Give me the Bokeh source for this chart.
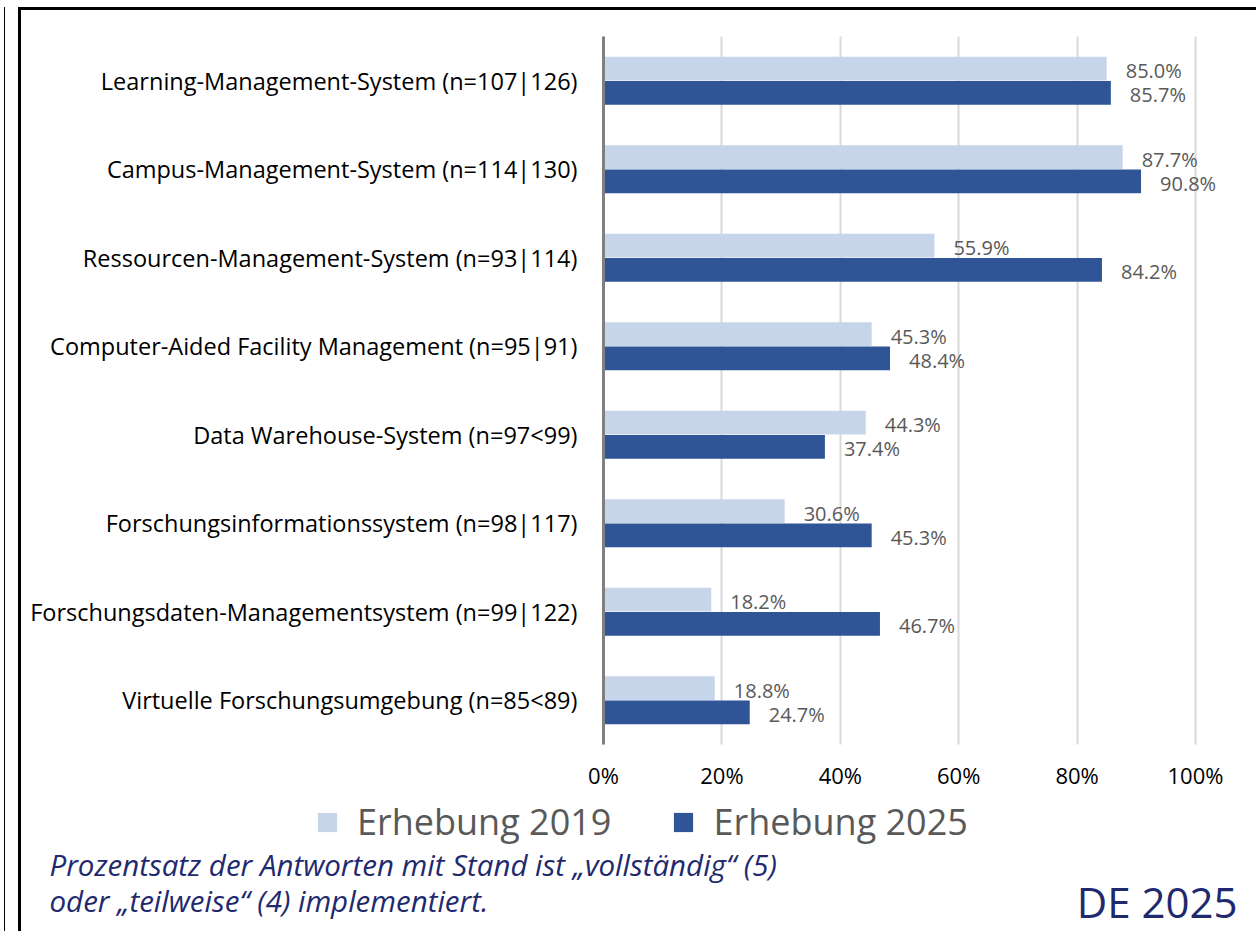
from bokeh.plotting import figure
from bokeh.models import Range1d, Legend, LegendItem, Label, FixedTicker, CustomJSTickFormatter, ColumnDataSource
from bokeh.transform import dodge
from bokeh.core.properties import value
from bokeh.embed import file_html
from bokeh.resources import INLINE

categories = [
    "Learning-Management-System (n=107|126)",
    "Campus-Management-System (n=114|130)",
    "Ressourcen-Management-System (n=93|114)",
    "Computer-Aided Facility Management (n=95|91)",
    "Data Warehouse-System (n=97<99)",
    "Forschungsinformationssystem (n=98|117)",
    "Forschungsdaten-Managementsystem (n=99|122)",
    "Virtuelle Forschungsumgebung (n=85<89)",
]
v2019 = [85.0, 87.7, 55.9, 45.3, 44.3, 30.6, 18.2, 18.8]
v2025 = [85.7, 90.8, 84.2, 48.4, 37.4, 45.3, 46.7, 24.7]
series_names = ["Erhebung 2019", "Erhebung 2025"]
x_ticks = [0, 20, 40, 60, 80, 100]
footnote = ["Prozentsatz der Antworten mit Stand ist \u201evollst\u00e4ndig\u201c (5)",
            "oder \u201eteilweise\u201c (4) implementiert."]
badge = "DE 2025"

FONT = "Open Sans"
LIGHT = "#c7d5eb"
DARK = "#2f5597"
NAVY = "#1f2a6e"

n = len(categories)
ypos = [n - 1 - i for i in range(n)]  # first category on top
src = ColumnDataSource(dict(
    y=ypos, v19=v2019, v25=v2025,
    t19=[f"{v:.1f}%" for v in v2019], t25=[f"{v:.1f}%" for v in v2025],
))

# layout geometry (pixels)
W, H = 1222, 924
ZERO_X = 582          # x of the 0% line inside the canvas
PX_PER_PCT = 5.92
BAND_TOP = 26         # top of the category band inside the canvas
PX_PER_CAT = 88.5

x_range = Range1d(-ZERO_X / PX_PER_PCT, (W - ZERO_X) / PX_PER_PCT)
y_top = (n - 0.5) + BAND_TOP / PX_PER_CAT
y_range = Range1d(y_top - H / PX_PER_CAT, y_top)

p = figure(width=W, height=H, x_range=x_range, y_range=y_range,
           output_backend="svg", toolbar_location=None, min_border=0)
p.outline_line_color = None

off, bh = 0.137, 0.27
r19 = p.hbar(y=dodge("y", off), right="v19", left=0, height=bh,
             fill_color=LIGHT, line_color=None, source=src)
r25 = p.hbar(y=dodge("y", -off), right="v25", left=0, height=bh,
             fill_color=DARK, line_color=None, source=src)
for col, o in (("19", off), ("25", -off)):
    p.text(x="v" + col, y=dodge("y", o), text="t" + col, source=src,
           x_offset=19, y_offset=2, text_baseline="middle", text_align="left",
           text_font=value(FONT), text_font_size="20px", text_color="#595959")

# x axis drawn at the bottom of the category band
p.xaxis.fixed_location = -0.5
p.xaxis.ticker = FixedTicker(ticks=x_ticks)
p.xaxis.formatter = CustomJSTickFormatter(code="return tick.toFixed(0) + '%';")
p.xaxis.axis_line_color = None
p.xaxis.major_tick_line_color = None
p.xaxis.major_tick_out = 0
p.xaxis.major_tick_in = 0
p.xaxis.minor_tick_line_color = None
p.xaxis.major_label_text_font = FONT
p.xaxis.major_label_text_font_size = "22px"
p.xaxis.major_label_text_color = "black"
p.xaxis.major_label_standoff = 15

# y axis (category labels) drawn at 0%
p.yaxis.fixed_location = 0
p.yaxis.bounds = (-0.5, n - 0.5)
p.yaxis.ticker = FixedTicker(ticks=ypos)
p.yaxis.major_label_overrides = {y: c for y, c in zip(ypos, categories)}
p.yaxis.axis_line_color = "#808080"
p.yaxis.axis_line_width = 3
p.yaxis.major_tick_line_color = None
p.yaxis.major_tick_out = 0
p.yaxis.major_tick_in = 0
p.yaxis.minor_tick_line_color = None
p.yaxis.major_label_text_font = FONT
p.yaxis.major_label_text_font_size = "23.5px"
p.yaxis.major_label_text_color = "black"
p.yaxis.major_label_standoff = 26

p.xgrid.grid_line_color = "#d9d9d9"
p.xgrid.grid_line_width = 2
p.xgrid.cross_bounds = (-0.5, n - 0.5)
p.ygrid.grid_line_color = None

legend = Legend(
    items=[LegendItem(label=series_names[0], renderers=[r19]),
           LegendItem(label=series_names[1], renderers=[r25])],
    orientation="horizontal", location=(294, 88),
    glyph_width=24, glyph_height=24, label_standoff=18, spacing=60,
    label_text_font=FONT, label_text_font_size="36px", label_text_color="#595959",
    label_height=40, padding=0, margin=0,
    border_line_color=None, background_fill_alpha=0,
)
p.add_layout(legend, "center")

for i, line in enumerate(footnote):
    p.add_layout(Label(x=28, y=70 - 36 * i, x_units="screen", y_units="screen",
                       text=line, text_font=FONT, text_font_style="italic",
                       text_font_size="29.5px", text_color=NAVY, text_baseline="alphabetic"))
p.add_layout(Label(x=1216, y=33, x_units="screen", y_units="screen",
                   text=badge, text_font=FONT, text_font_size="42px", text_color=NAVY,
                   text_align="right", text_baseline="alphabetic"))

p.styles = {"margin-left": "18px", "margin-top": "7px",
            "border-left": "3px solid black", "border-top": "3px solid black",
            "box-shadow": "30px 3px 0 0 white, -13px 0 0 0 white, 30px 0 0 0 black, -14px 0 0 0 black"}

open("out.html", "w").write(file_html(p, INLINE))
